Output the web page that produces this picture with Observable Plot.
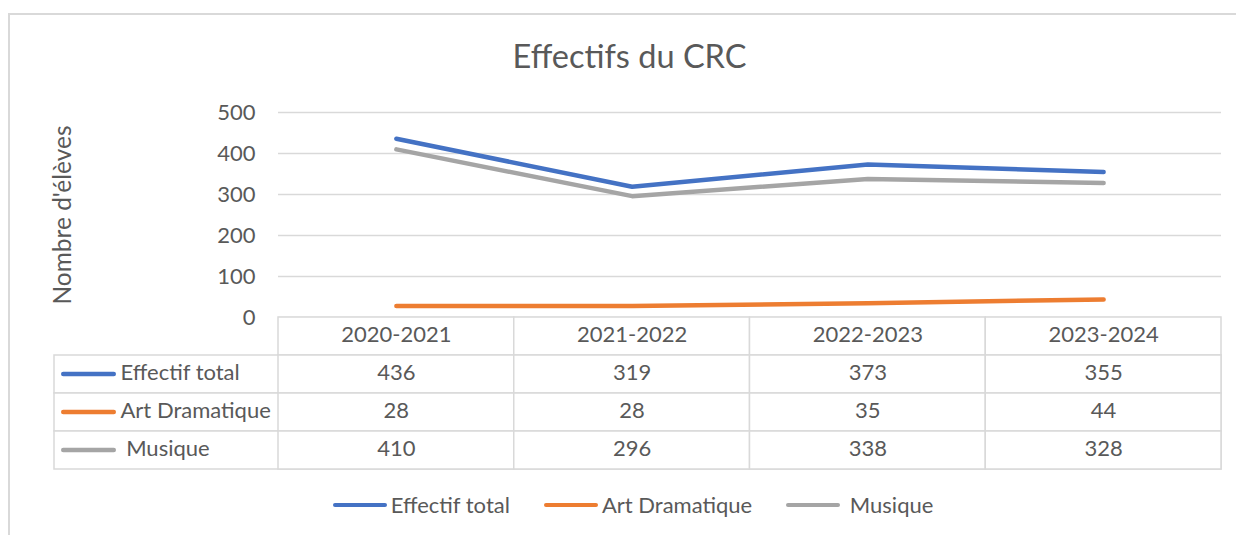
<!DOCTYPE html>
<html>
<head>
<meta charset="utf-8">
<script src="https://cdn.jsdelivr.net/npm/d3@7"></script>
<script src="https://cdn.jsdelivr.net/npm/@observablehq/plot@0.6"></script>
<style>
  body { margin: 0; background: #fff; font-family: Lato, sans-serif; color: #595959; }
  #wrap { position: relative; width: 1236px; height: 535px; overflow: hidden; background: #fff; }
  #border { position: absolute; left: 8px; top: 13px; width: 1400px; height: 700px; border: 2px solid #d9d9d9; box-sizing: border-box; pointer-events: none; z-index: 5; }
  #chart, #table { position: absolute; left: 0; }
  #chart { top: 0; }
  #table { top: 299px; }
  #legend { position: absolute; left: 8px; width: 1250px; top: 492px; display: flex; justify-content: center; gap: 34px; font-size: 22px; line-height: 26px; white-space: pre; }
  #legend .item { display: flex; align-items: center; gap: 4px; }
  #legend .sw { display: inline-block; width: 54px; height: 4.5px; border-radius: 3px; }
</style>
</head>
<body>
<div id="wrap">
  <div id="chart"></div>
  <div id="table"></div>
  <div id="legend"></div>
  <div id="border"></div>
</div>
<script>
const title = "Effectifs du CRC";
const yLabel = "Nombre d'élèves";
const categories = ["2020-2021", "2021-2022", "2022-2023", "2023-2024"];
const seriesNames = ["Effectif total", "Art Dramatique", " Musique"];
const effectifTotal = [436, 319, 373, 355];
const artDramatique = [28, 28, 35, 44];
const musique = [410, 296, 338, 328];
const yTicks = [0, 100, 200, 300, 400, 500];
const colors = ["#4472C4", "#ED7D31", "#A5A5A5"];

const valuesBySeries = [effectifTotal, artDramatique, musique];
const long = seriesNames.flatMap((s, k) =>
  valuesBySeries[k].map((v, i) => ({series: s, i, category: categories[i], value: v})));
const cols = categories.map((c, i) => ({category: c, i}));
const rows = ["header", ...seriesNames];
const cells = rows.flatMap(r => cols.map(c => ({row: r, ...c})));

const FS = 22;
const TXT = "#595959";
const GRID = "#d9d9d9";
const xScale = {type: "linear", domain: [-0.5, categories.length - 0.5], range: [278, 1221], axis: null};
const color = {domain: seriesNames, range: colors};
const style = {background: "transparent", fontFamily: "Lato, sans-serif", fontSize: FS + "px", color: TXT, overflow: "visible"};
const nb = s => s.replace(/^ /, "\u00a0");

const chart = Plot.plot({
  width: 1236, height: 320,
  marginTop: 112, marginBottom: 3, marginLeft: 278, marginRight: 15,
  style,
  x: xScale,
  y: {domain: [0, 500]},
  color,
  marks: [
    Plot.gridY(yTicks, {stroke: GRID, strokeOpacity: 1, strokeWidth: 1.5}),
    Plot.axisY(yTicks, {tickSize: 0, tickPadding: 23, label: null, fontSize: FS, fill: TXT}),
    Plot.line(long, {x: "i", y: "value", z: "series", stroke: "series", strokeWidth: 4.5, strokeLinecap: "round", strokeLinejoin: "round"}),
    Plot.text([title], {text: d => d, frameAnchor: "top-left", textAnchor: "middle", lineAnchor: "middle", dx: 629 - 278, dy: -55, fontSize: 32.5, fill: TXT}),
    Plot.text([yLabel], {text: d => d, frameAnchor: "left", textAnchor: "middle", dx: -215, rotate: -90, fontSize: 24.5, fill: TXT})
  ]
});
document.getElementById("chart").append(chart);

const table = Plot.plot({
  width: 1236, height: 175,
  marginTop: 18, marginBottom: 5, marginLeft: 54, marginRight: 15,
  style,
  x: xScale,
  y: {type: "band", domain: rows, padding: 0, axis: null},
  color,
  marks: [
    Plot.cell(seriesNames, {y: d => d, fill: "white", stroke: GRID, strokeWidth: 1.5}),
    Plot.barX(cells, {x1: d => d.i - 0.5, x2: d => d.i + 0.5, y: "row", fill: "white", stroke: GRID, strokeWidth: 1.5}),
    Plot.text(cols, {x: "i", y: () => "header", text: "category", fontSize: FS, fill: TXT, dy: -1.5}),
    Plot.text(long, {x: "i", y: "series", text: d => String(d.value), fontSize: FS, fill: TXT, dy: -1.5}),
    Plot.text(seriesNames, {y: d => d, text: nb, frameAnchor: "left", dx: 66, dy: -1.5, textAnchor: "start", fontSize: FS, fill: TXT}),
    Plot.cell(seriesNames, {y: d => d, fill: d => d, insetLeft: 7, insetRight: 1221 - 116, insetTop: 16.75, insetBottom: 16.75, rx: 2.25})
  ]
});
document.getElementById("table").append(table);

const legend = d3.select("#legend");
seriesNames.forEach((s, k) => {
  const item = legend.append("div").attr("class", "item");
  item.append("span").attr("class", "sw").style("background", colors[k]);
  item.append("span").attr("class", "lab").text(s);
});
</script>
</body>
</html>
